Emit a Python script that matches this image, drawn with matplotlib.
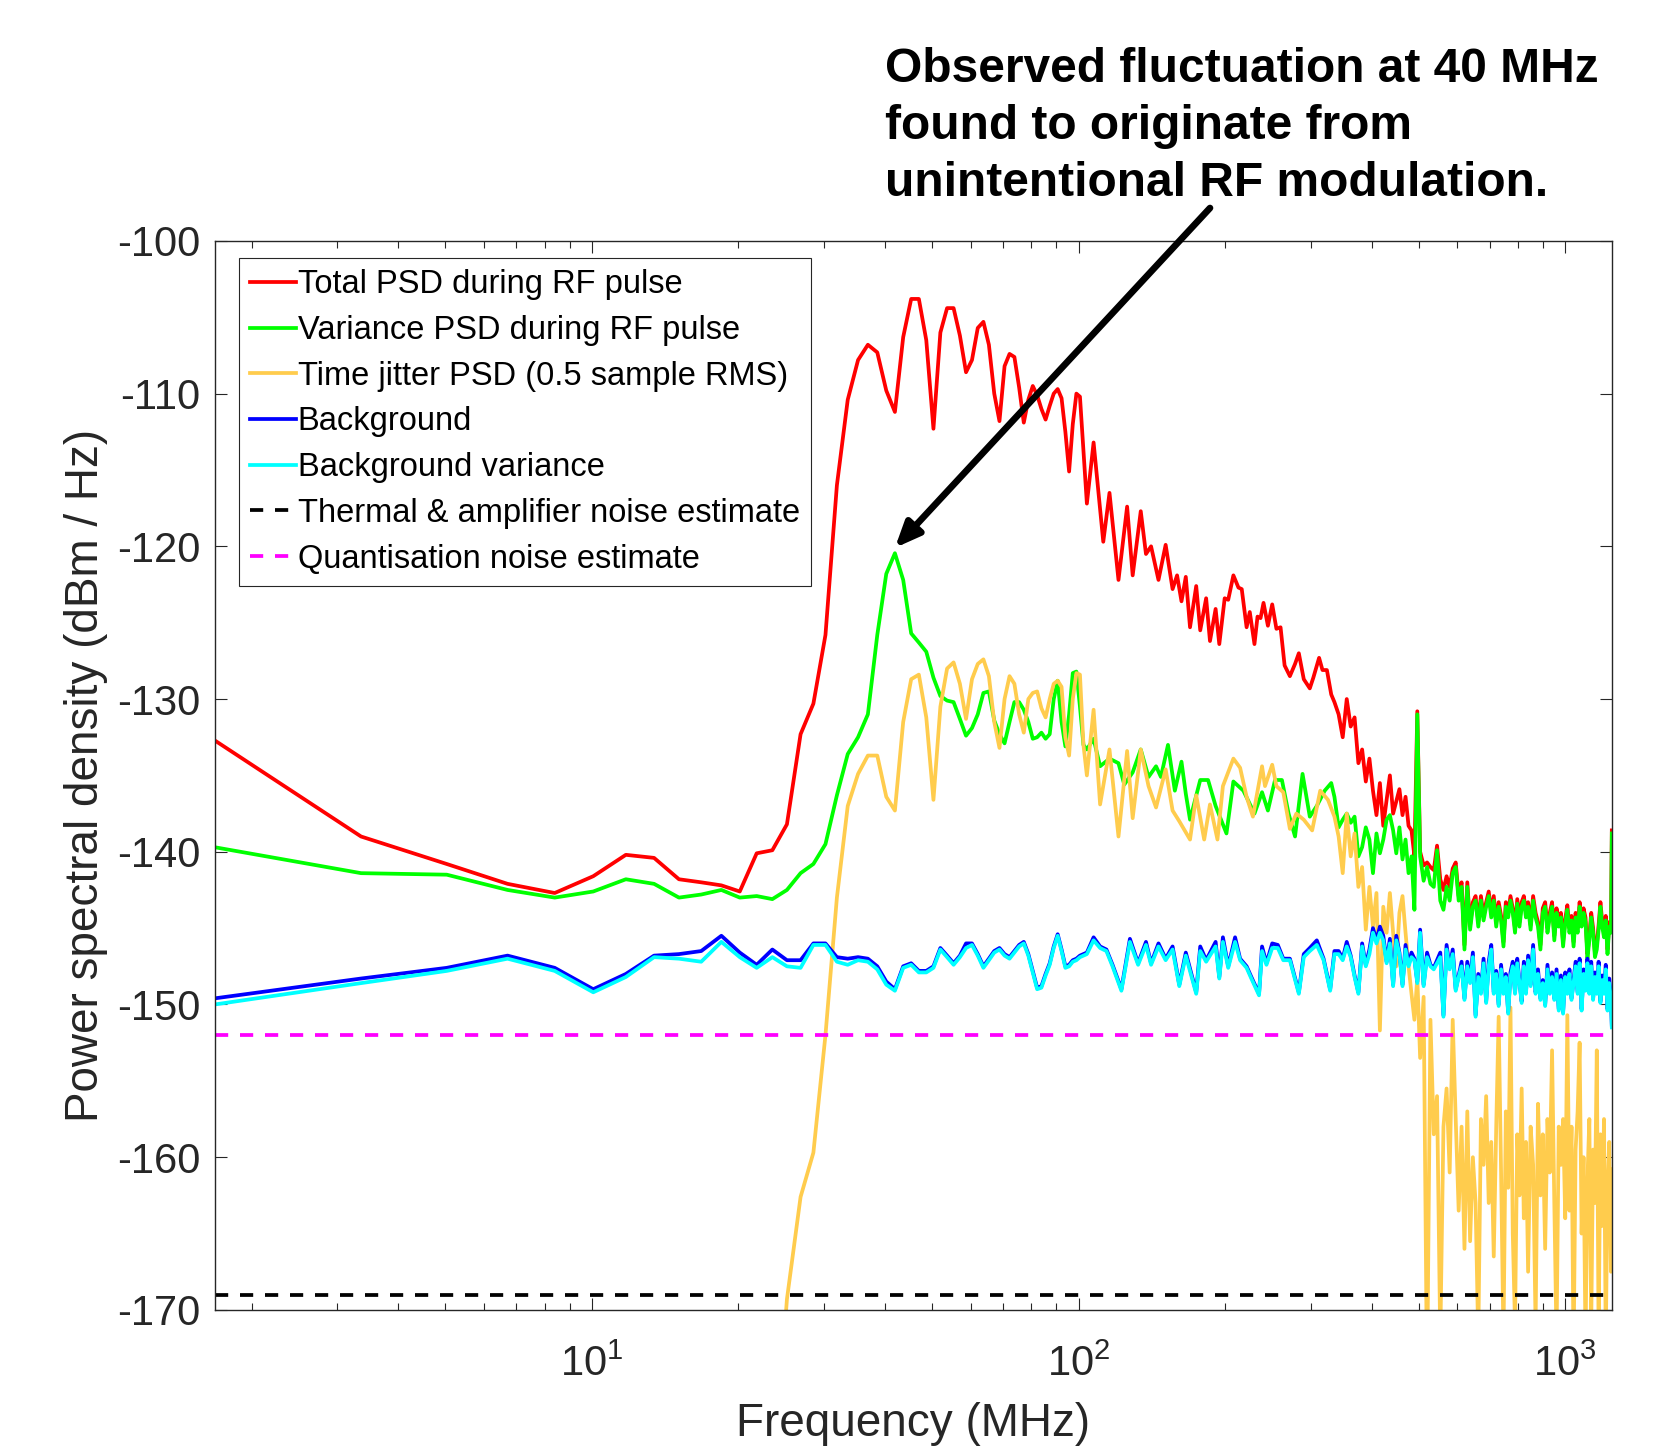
import numpy as np
import matplotlib
matplotlib.use("Agg")
import matplotlib.pyplot as plt
from matplotlib.ticker import LogLocator, NullFormatter

plt.rcParams['font.family'] = ['Liberation Sans', 'DejaVu Sans']
plt.rcParams['mathtext.fontset'] = 'custom'
plt.rcParams['mathtext.rm'] = 'Liberation Sans'
plt.rcParams['mathtext.it'] = 'Liberation Sans:italic'
plt.rcParams['mathtext.bf'] = 'Liberation Sans:bold'
plt.rcParams['axes.unicode_minus'] = False
plt.rcParams['lines.scale_dashes'] = False

# FFT bin spacing (MHz): every spectrum point sits at bin * DF_MHZ
DF_MHZ = 1.678

# flat noise estimates (dBm/Hz)
THERMAL_DB = -169.0
QUANT_DB = -152.0

# bins used in the noisy upper band (~335 MHz up to Nyquist), shared by all traces
HI_BINS = (list(range(200, 301, 4)) + list(range(305, 501, 5))
           + list(range(506, 741, 6)) + [743])

# ---- total PSD during RF pulse (red) ----
RED_LO = [
    (1, -132.7), (2, -139.0), (3, -140.8), (4, -142.1), (5, -142.7), (6, -141.6), (7, -140.2), (8, -140.4),
    (9, -141.8), (10, -142.0), (11, -142.2), (12, -142.6), (13, -140.1), (14, -139.9), (15, -138.2), (16, -132.3),
    (17, -130.3), (18, -125.8), (19, -116.0), (20, -110.4), (21, -107.8), (22, -106.8), (23, -107.3), (24, -109.8),
    (25, -111.2), (26, -106.3), (27, -103.8), (28, -103.8), (29, -106.5), (30, -112.3), (31, -106.0), (32, -104.4),
    (33, -104.4), (34, -106.2), (35, -108.6), (36, -107.8), (37, -105.7), (38, -105.3), (39, -106.8), (40, -110.0),
    (41, -111.8), (42, -108.2), (43, -107.4), (44, -107.6), (45, -109.6), (46, -111.9), (47, -110.4), (48, -109.5),
    (49, -110.1), (50, -111.0), (51, -111.7), (52, -110.8), (53, -110.0), (54, -109.7), (55, -110.3), (56, -112.5),
    (57, -115.1), (58, -112.0), (59, -110.0), (60, -110.2), (62, -117.2), (64, -113.2), (67, -119.7), (69, -116.5),
    (72, -122.2), (75, -117.4), (77, -121.9), (80, -117.7), (82, -120.5), (84, -120.0), (87, -122.2), (90, -119.9),
    (93, -122.8), (95, -121.9), (97, -123.6), (99, -122.0), (101, -125.3), (104, -122.6), (106, -125.5), (109, -123.4),
    (111, -126.2), (114, -124.1), (116, -126.4), (119, -123.4), (121, -123.5), (124, -121.9), (127, -122.7), (129, -122.8),
    (132, -125.3), (134, -124.3), (137, -126.4), (139, -124.6), (141, -124.7), (143, -123.7), (146, -125.2), (149, -123.8),
    (152, -125.4), (155, -125.3), (158, -127.8), (162, -128.5), (166, -127.7), (169, -127.0), (173, -128.7), (178, -129.3),
    (181, -128.6), (186, -127.3), (189, -128.1), (193, -128.1), (197, -129.7),
]
RED_HI = [
    -130.2, -131.0, -132.5, -130.0, -131.8, -131.2, -134.2, -133.3, -135.4, -133.9, -136.0, -137.6, -135.5,
    -138.3, -136.6, -135.0, -137.5, -136.7, -135.9, -137.6, -136.4, -138.3, -138.6, -140.3, -130.8, -140.0,
    -140.9, -140.7, -141.0, -141.2, -139.6, -141.8, -142.5, -141.6, -142.3, -141.1,
    -140.7, -142.9, -142.0, -146.1, -142.0, -144.8, -143.3, -142.9, -144.6, -142.9,
    -144.2, -143.3, -142.6, -144.0, -142.9, -144.6, -143.3, -144.2, -145.9, -143.3,
    -144.0, -142.9, -143.7, -145.0, -143.1, -144.6, -143.3, -142.9, -144.0, -143.3,
    -144.8, -142.9, -144.0, -144.6, -146.1, -143.7, -143.3, -145.0, -144.0, -143.3,
    -145.5, -143.7, -144.6, -144.0, -145.9, -144.4, -143.5, -145.0, -144.2, -145.9,
    -144.0, -145.0, -143.3, -144.6, -143.7, -144.3, -146.7, -145.5, -144.0, -145.0,
    -146.6, -146.1, -144.8, -143.3, -144.6, -145.3, -144.2, -146.4, -144.6, -145.0,
    -138.6,
]

# ---- variance PSD during RF pulse (green) ----
GREEN_LO = [
    (1, -139.7), (2, -141.4), (3, -141.5), (4, -142.5), (5, -143.0), (6, -142.6), (7, -141.8), (8, -142.1),
    (9, -143.0), (10, -142.8), (11, -142.5), (12, -143.0), (13, -142.9), (14, -143.1), (15, -142.5), (16, -141.4),
    (17, -140.8), (18, -139.5), (19, -136.3), (20, -133.6), (21, -132.5), (22, -131.0), (23, -125.8), (24, -121.8),
    (25, -120.45), (26, -122.2), (27, -125.7), (28, -126.3), (29, -126.9), (30, -128.6), (31, -129.8), (32, -130.1),
    (33, -130.2), (34, -131.3), (35, -132.4), (36, -131.9), (37, -131.0), (38, -129.6), (39, -129.5), (40, -131.4),
    (41, -132.3), (42, -132.9), (43, -131.5), (44, -130.2), (45, -130.2), (46, -130.7), (47, -131.5), (48, -132.6),
    (49, -132.5), (50, -132.2), (51, -132.6), (52, -132.3), (53, -130.0), (54, -128.8), (55, -131.5), (56, -133.1),
    (57, -131.0), (58, -128.3), (59, -128.2), (60, -130.5), (61, -133.0), (62, -133.3), (64, -132.6), (66, -134.4),
    (69, -133.9), (72, -134.2), (74, -135.6), (77, -134.8), (80, -133.3), (83, -135.1), (86, -134.4), (88, -135.1),
    (91, -133.0), (94, -136.0), (97, -134.1), (99, -136.2), (101, -137.9), (106, -135.3), (110, -135.3), (114, -137.0),
    (120, -138.8), (124, -135.4), (130, -136.0), (137, -137.5), (142, -136.1), (146, -137.3), (151, -135.3), (156, -135.3),
    (161, -137.5), (166, -139.0), (172, -134.9), (178, -137.7), (184, -137.0), (191, -136.0), (197, -135.5),
]
GREEN_HI = [
    -136.4, -138.4, -137.9, -137.5, -138.1, -137.7, -140.3, -139.7, -138.4, -139.2, -141.4, -138.8, -140.1,
    -139.2, -137.9, -137.6, -138.6, -140.1, -138.4, -140.5, -139.2, -141.4, -140.3, -143.8, -131.0, -140.3,
    -141.9, -141.0, -142.1, -142.3, -139.9, -143.2, -143.8, -142.3, -143.2, -141.4,
    -141.0, -143.2, -142.3, -146.4, -142.3, -145.1, -143.6, -143.2, -144.9, -143.2,
    -144.5, -143.6, -142.9, -144.3, -143.2, -144.9, -143.6, -144.5, -146.2, -143.6,
    -144.3, -143.2, -144.0, -145.3, -143.4, -144.9, -143.6, -143.2, -144.3, -143.6,
    -145.1, -143.2, -144.3, -144.9, -146.4, -144.0, -143.6, -145.3, -144.3, -143.6,
    -145.8, -144.0, -144.9, -144.3, -146.2, -144.7, -143.8, -145.3, -144.5, -146.2,
    -144.3, -145.3, -143.6, -144.9, -144.0, -144.6, -147.0, -145.8, -144.3, -145.3,
    -146.9, -146.4, -145.1, -143.6, -144.9, -145.6, -144.5, -146.7, -144.9, -145.3,
    -138.8,
]

# ---- time jitter PSD, 0.5 sample RMS (orange) ----
JITTER_LO = [
    (14, -182.0), (15, -169.3), (16, -162.6), (17, -159.7), (18, -152.0), (19, -143.0), (20, -137.0), (21, -134.9),
    (22, -133.7), (23, -133.7), (24, -136.4), (25, -137.3), (26, -131.5), (27, -128.7), (28, -128.4), (29, -131.2),
    (30, -136.6), (31, -130.5), (32, -128.0), (33, -127.6), (34, -129.0), (35, -131.3), (36, -128.7), (37, -127.7),
    (38, -127.4), (39, -128.5), (40, -131.5), (41, -133.2), (42, -130.0), (43, -128.5), (44, -129.0), (45, -131.0),
    (46, -132.2), (47, -130.0), (48, -129.6), (49, -129.5), (50, -130.6), (51, -131.2), (52, -130.0), (53, -129.0),
    (54, -128.8), (55, -129.2), (56, -132.5), (57, -133.7), (58, -130.0), (59, -128.3), (60, -128.4), (61, -133.0),
    (62, -135.0), (64, -130.7), (66, -136.9), (69, -133.3), (72, -139.0), (75, -133.4), (77, -137.8), (80, -133.3),
    (83, -135.7), (86, -137.1), (90, -134.6), (93, -137.3), (96, -138.0), (101, -139.2), (104, -136.3), (108, -139.2),
    (111, -136.9), (115, -139.2), (118, -135.7), (124, -133.9), (128, -134.5), (132, -136.4), (136, -137.7), (142, -134.4),
    (144, -135.7), (149, -134.3), (152, -135.7), (157, -136.1), (162, -138.5), (167, -137.5), (173, -137.9), (180, -138.6),
    (187, -136.0), (194, -136.6),
]
JITTER_HI = [
    -137.7, -139.0, -141.4, -137.5, -140.3, -138.8, -142.3, -141.0, -145.1, -142.3, -144.9, -142.7, -151.7,
    -143.6, -145.3, -142.7, -145.3, -147.5, -144.0, -142.9, -145.3, -147.5, -149.3, -151.0, -148.2, -153.5,
    -149.5, -175.0, -151.0, -158.5, -156.0, -172.0, -158.0, -155.5, -161.0, -151.0,
    -157.5, -163.5, -158.0, -166.0, -157.0, -165.5, -160.0, -163.0, -172.0, -157.5,
    -160.5, -156.0, -163.0, -159.0, -166.5, -158.0, -150.8, -161.0, -172.0, -157.0,
    -162.0, -150.2, -165.0, -171.0, -158.5, -162.5, -155.5, -164.0, -159.0, -167.5,
    -158.0, -160.5, -171.0, -156.5, -162.5, -158.5, -166.0, -157.5, -161.0, -153.0,
    -163.0, -172.0, -158.0, -160.5, -157.5, -164.0, -150.7, -163.5, -158.0, -173.0,
    -159.5, -157.0, -152.5, -165.0, -160.0, -172.0, -161.5, -157.5, -171.0, -159.5,
    -163.0, -153.0, -172.0, -158.5, -164.5, -157.5, -172.0, -162.0, -159.0, -167.5,
    -160.8,
]

# ---- background (blue) ----
BG_LO = [
    (1, -149.6), (2, -148.3), (3, -147.6), (4, -146.8), (5, -147.6), (6, -149.0), (7, -148.0), (8, -146.8),
    (9, -146.7), (10, -146.5), (11, -145.5), (12, -146.6), (13, -147.4), (14, -146.4), (15, -147.1), (16, -147.1),
    (17, -146.0), (18, -146.0), (19, -146.9), (20, -147.0), (21, -146.9), (22, -147.0), (23, -147.5), (24, -148.5),
    (25, -149.0), (26, -147.5), (27, -147.3), (28, -147.8), (29, -147.8), (30, -147.5), (31, -146.3), (32, -146.8),
    (33, -147.3), (34, -146.8), (35, -146.0), (36, -146.0), (37, -146.7), (38, -147.5), (39, -147.0), (40, -146.5),
    (41, -146.3), (42, -146.7), (43, -146.9), (44, -146.5), (45, -146.1), (46, -145.9), (47, -146.7), (48, -147.8),
    (49, -148.9), (50, -148.8), (51, -148.0), (52, -147.3), (53, -146.2), (54, -145.4), (55, -146.4), (56, -147.5),
    (57, -147.4), (58, -147.1), (59, -147.0), (60, -146.8), (62, -146.6), (64, -145.6), (66, -146.2), (68, -146.4),
    (70, -147.4), (73, -149.0), (76, -145.7), (79, -147.3), (82, -145.9), (84, -147.3), (87, -146.0), (90, -147.0),
    (93, -146.2), (96, -148.7), (99, -146.6), (104, -149.2), (106, -146.2), (109, -147.1), (114, -145.9), (116, -148.2),
    (118, -145.6), (121, -147.5), (125, -145.6), (128, -147.0), (132, -147.5), (135, -148.2), (140, -149.3), (142, -146.2),
    (145, -147.3), (149, -146.0), (153, -146.1), (157, -147.0), (162, -147.0), (169, -149.2), (173, -146.7), (178, -146.3),
    (184, -145.8), (190, -147.0), (196, -149.0),
]
BG_HI = [
    -146.5, -146.5, -147.0, -145.9, -146.8, -148.1, -149.2, -146.0, -147.4, -146.4, -145.0, -145.8, -144.9,
    -145.5, -147.2, -145.7, -148.7, -145.5, -146.6, -148.7, -146.1, -147.4, -146.6, -147.0, -148.5, -145.1,
    -148.7, -146.6, -147.4, -147.6, -147.1, -146.6, -150.7, -146.1, -147.6, -146.4,
    -149.0, -148.1, -147.2, -149.6, -147.2, -148.5, -146.6, -150.7, -148.0, -149.2,
    -147.0, -149.8, -147.2, -146.1, -149.2, -147.8, -150.0, -147.4, -149.2, -148.0,
    -150.5, -147.9, -147.2, -149.2, -147.0, -148.5, -149.8, -147.2, -149.2, -146.8,
    -148.7, -146.1, -149.2, -147.7, -149.6, -148.4, -150.0, -147.4, -149.2, -147.9,
    -149.6, -147.7, -150.3, -148.1, -150.5, -147.9, -149.2, -147.7, -149.6, -148.4,
    -147.2, -149.2, -147.0, -150.3, -147.7, -149.0, -147.0, -149.2, -147.2, -149.6,
    -147.9, -149.2, -147.2, -149.8, -148.1, -149.2, -147.4, -150.3, -148.3, -149.6,
    -151.4,
]

# ---- background variance (cyan) ----
BGVAR_LO = [
    (1, -150.0), (2, -148.6), (3, -147.8), (4, -147.0), (5, -147.8), (6, -149.2), (7, -148.2), (8, -146.9),
    (9, -147.0), (10, -147.2), (11, -145.9), (12, -146.9), (13, -147.6), (14, -146.9), (15, -147.5), (16, -147.6),
    (17, -146.1), (18, -146.1), (19, -147.2), (20, -147.4), (21, -147.1), (22, -147.2), (23, -147.7), (24, -148.7),
    (25, -149.1), (26, -147.6), (27, -147.4), (28, -147.9), (29, -147.9), (30, -147.6), (31, -146.4), (32, -146.9),
    (33, -147.4), (34, -146.9), (35, -146.3), (36, -146.1), (37, -146.8), (38, -147.6), (39, -147.1), (40, -146.6),
    (41, -146.4), (42, -146.8), (43, -147.0), (44, -146.6), (45, -146.2), (46, -146.0), (47, -146.8), (48, -147.9),
    (49, -149.0), (50, -148.9), (51, -148.1), (52, -147.4), (53, -146.3), (54, -145.5), (55, -146.5), (56, -147.6),
    (57, -147.5), (58, -147.2), (59, -147.1), (60, -146.9), (62, -146.7), (64, -145.8), (66, -146.3), (68, -146.5),
    (70, -147.5), (73, -149.1), (76, -145.9), (79, -147.4), (82, -146.1), (84, -147.4), (87, -146.2), (90, -147.1),
    (93, -146.4), (96, -148.8), (99, -146.8), (104, -149.3), (106, -146.5), (109, -147.2), (114, -146.2), (116, -148.3),
    (118, -145.9), (121, -147.6), (125, -145.9), (128, -147.1), (132, -147.6), (135, -148.3), (140, -149.4), (142, -146.5),
    (145, -147.4), (149, -146.3), (153, -146.3), (157, -147.1), (162, -147.1), (169, -149.3), (173, -146.9), (178, -146.5),
    (184, -146.1), (190, -147.1), (196, -149.1),
]
BGVAR_HI = [
    -146.7, -146.7, -147.1, -146.2, -146.9, -148.2, -149.3, -146.2, -147.5, -146.7, -145.3, -146.0, -145.3,
    -145.8, -147.3, -146.0, -148.8, -145.8, -146.7, -148.8, -146.4, -147.5, -146.9, -147.1, -148.6, -145.3,
    -148.8, -146.9, -147.5, -147.7, -147.3, -146.9, -150.8, -146.4, -147.7, -146.7,
    -149.1, -148.2, -147.5, -149.7, -147.5, -148.6, -146.9, -150.8, -148.2, -149.3,
    -147.3, -149.9, -147.5, -146.4, -149.3, -148.0, -150.1, -147.7, -149.3, -148.2,
    -150.6, -148.2, -147.5, -149.3, -147.3, -148.6, -149.9, -147.5, -149.3, -147.1,
    -148.8, -146.4, -149.3, -148.0, -149.7, -148.6, -150.1, -147.7, -149.3, -148.2,
    -149.7, -148.0, -150.4, -148.4, -150.6, -148.2, -149.3, -148.0, -149.7, -148.6,
    -147.5, -149.3, -147.3, -150.4, -148.0, -149.1, -147.3, -149.3, -147.5, -149.7,
    -148.2, -149.3, -147.5, -149.9, -148.4, -149.3, -147.7, -150.4, -148.6, -149.7,
    -151.5,
]


def spectrum(lo, hi):
    bins = [b for b, _ in lo] + HI_BINS
    vals = [v for _, v in lo] + hi
    return np.array(bins) * DF_MHZ, np.array(vals)


fig = plt.figure(figsize=(16.67, 14.46), dpi=100)
ax = fig.add_axes([0.1287, 0.0941, 0.8382, 0.7393])

LW = 2.7
traces = [
    (RED_LO, RED_HI, (1.0, 0.0, 0.0), 'Total PSD during RF pulse'),
    (GREEN_LO, GREEN_HI, (0.0, 1.0, 0.0), 'Variance PSD during RF pulse'),
    (JITTER_LO, JITTER_HI, (1.0, 0.8, 0.3), 'Time jitter PSD (0.5 sample RMS)'),
    (BG_LO, BG_HI, (0.0, 0.0, 1.0), 'Background'),
    (BGVAR_LO, BGVAR_HI, (0.0, 1.0, 1.0), 'Background variance'),
]
for lo, hi, col, lab in traces:
    f, p = spectrum(lo, hi)
    ax.plot(f, p, color=col, lw=LW, label=lab)

fmin = DF_MHZ
fmax = HI_BINS[-1] * DF_MHZ
ax.plot([fmin, fmax], [THERMAL_DB, THERMAL_DB], color='black', lw=LW, dashes=(9.5, 8.5),
        label='Thermal & amplifier noise estimate')
ax.plot([fmin, fmax], [QUANT_DB, QUANT_DB], color=(1.0, 0.0, 1.0), lw=LW, dashes=(9.5, 8.5),
        label='Quantisation noise estimate')

# axes, MATLAB style box with inward ticks
ax.set_xscale('log')
ax.set_xlim(fmin, fmax)
ax.set_ylim(-170, -100)
ax.set_yticks(np.arange(-170, -99, 10))
ax.xaxis.set_major_locator(LogLocator(base=10))
ax.xaxis.set_minor_locator(LogLocator(base=10, subs=np.arange(2, 10)))
ax.xaxis.set_minor_formatter(NullFormatter())
grey = '#262626'
ax.tick_params(which='both', direction='in', top=True, right=True, color=grey, width=0.8,
               labelcolor=grey, labelsize=30)
ax.tick_params(which='major', length=8.5)
ax.tick_params(which='minor', length=5)
ax.tick_params(axis='y', pad=10)
ax.tick_params(axis='x', pad=25)
for s in ax.spines.values():
    s.set_color(grey)
    s.set_linewidth(1.0)

ax.set_xlabel('Frequency (MHz)', fontsize=33, color=grey, labelpad=12)
ax.set_ylabel('Power spectral density (dBm / Hz)', fontsize=33, color=grey, labelpad=7)

leg = ax.legend(loc='upper left', bbox_to_anchor=(0.0175, 0.984), borderaxespad=0,
                fontsize=23.5, frameon=True, fancybox=False, edgecolor=grey, framealpha=1,
                handlelength=1.4, handletextpad=0.05, labelspacing=0.45, borderpad=0.35)
leg.get_frame().set_linewidth(0.8)

# call-out text and arrow to the green peak
fig.text(885 / 1667, 1 - 47 / 1446,
         'Observed fluctuation at 40 MHz\nfound to originate from\nunintentional RF modulation.',
         fontsize=34.5, fontweight='bold', ha='left', va='top', linespacing=1.34)
ax.annotate('', xy=(25 * DF_MHZ, -120.1), xycoords='data',
            xytext=(1210 / 1667, 1 - 208 / 1446), textcoords='figure fraction',
            arrowprops=dict(arrowstyle='-|>,head_length=0.75,head_width=0.32', mutation_scale=20,
                            lw=4.8, color='black', shrinkA=0, shrinkB=0))

fig.savefig('out.png', dpi=100)
